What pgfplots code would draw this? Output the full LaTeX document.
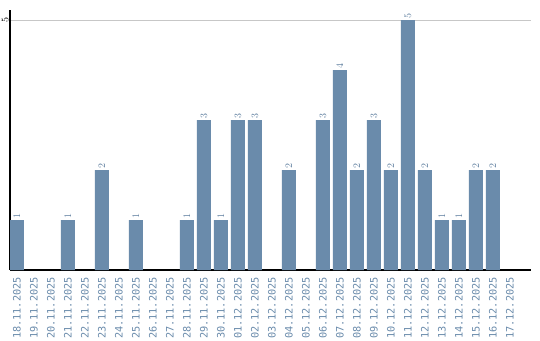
\documentclass[border=0pt]{standalone}
\usepackage{fontspec}
\setmainfont{DejaVu Sans Mono}
\usepackage{pgfplots}
\pgfplotsset{compat=1.18}
\definecolor{barc}{HTML}{6A8BAB}
\definecolor{labc}{HTML}{5F7F9F}
\begin{document}
\begin{tikzpicture}[x=1bp,y=1bp]
\useasboundingbox (0,0) rectangle (540,340);
\begin{axis}[
  at={(10bp,70bp)}, anchor=south west,
  scale only axis, width=521bp, height=260bp,
  xmin=-0.41, xmax=30.24, ymin=0, ymax=5.2,
  axis x line=bottom, axis y line=left,
  axis line style={-, line width=1.1bp, black},
  ytick={5}, ymajorgrids, grid style={line width=0.8bp, black!22},
  xtick={0,...,29},
  xticklabels={18.11.2025,19.11.2025,20.11.2025,21.11.2025,22.11.2025,23.11.2025,24.11.2025,25.11.2025,26.11.2025,27.11.2025,28.11.2025,29.11.2025,30.11.2025,01.12.2025,02.12.2025,03.12.2025,04.12.2025,05.12.2025,06.12.2025,07.12.2025,08.12.2025,09.12.2025,10.12.2025,11.12.2025,12.12.2025,13.12.2025,14.12.2025,15.12.2025,16.12.2025,17.12.2025},
  major tick length=0pt,
  tick label style={font=\fontsize{10.3}{11}\selectfont},
  x tick label style={yshift=-7bp, rotate=90, anchor=east, inner sep=0pt, text=barc},
  y tick label style={rotate=90, anchor=south, inner sep=1.5bp, text=black},
  ybar, bar width=14bp,
  nodes near coords,
  nodes near coords style={font=\fontsize{10.3}{11}\selectfont, rotate=90, anchor=west, inner sep=1.5bp, text=labc},
]
\addplot[fill=barc, draw=none] coordinates {
(0,1) (3,1) (5,2) (7,1) (10,1) (11,3) (12,1) (13,3) (14,3) (16,2)
(18,3) (19,4) (20,2) (21,3) (22,2) (23,5) (24,2) (25,1) (26,1) (27,2) (28,2)
};
\end{axis}
\end{tikzpicture}
\end{document}
